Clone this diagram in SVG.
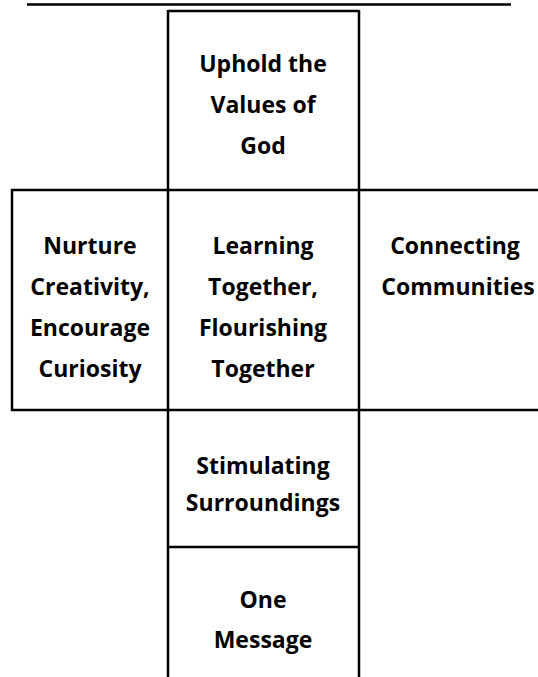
<svg xmlns="http://www.w3.org/2000/svg" width="538" height="677" viewBox="0 0 538 677">
<style>
.ln{stroke:#000;stroke-width:2.5;fill:none}
.t{font-family:"Open Sans","Liberation Sans",sans-serif;font-weight:bold;font-size:23px;fill:#000;text-anchor:middle;font-variant-ligatures:none}
</style>
<rect width="538" height="677" fill="#fff"/>
<g id="connectors">
<line class="ln" x1="27" y1="4.5" x2="511" y2="4.5"/>
<line class="ln" x1="168" y1="11" x2="359" y2="11"/>
<line class="ln" x1="11" y1="190" x2="538" y2="190"/>
<line class="ln" x1="11" y1="410" x2="538" y2="410"/>
<line class="ln" x1="12" y1="189" x2="12" y2="411"/>
<line class="ln" x1="168" y1="10" x2="168" y2="677"/>
<line class="ln" x1="359" y1="10" x2="359" y2="677"/>
<line class="ln" x1="168" y1="547" x2="359" y2="547"/>
</g>
<g id="values">
<text class="t" x="263" y="72">Uphold the</text>
<text class="t" x="263" y="113">Values of</text>
<text class="t" x="263" y="154">God</text>
</g>
<g id="nurture">
<text class="t" x="90" y="254">Nurture</text>
<text class="t" x="90" y="295">Creativity,</text>
<text class="t" x="90" y="336">Encourage</text>
<text class="t" x="90" y="377">Curiosity</text>
</g>
<g id="learning">
<text class="t" x="263" y="254">Learning</text>
<text class="t" x="263" y="295">Together,</text>
<text class="t" x="263" y="336">Flourishing</text>
<text class="t" x="263" y="377">Together</text>
</g>
<g id="connecting">
<text class="t" x="455" y="254">Connecting</text>
<text class="t" x="458" y="295">Communities</text>
</g>
<g id="stimulating">
<text class="t" x="263" y="474">Stimulating</text>
<text class="t" x="263" y="511">Surroundings</text>
</g>
<g id="message">
<text class="t" x="263" y="608">One</text>
<text class="t" x="263" y="648">Message</text>
</g>
</svg>
